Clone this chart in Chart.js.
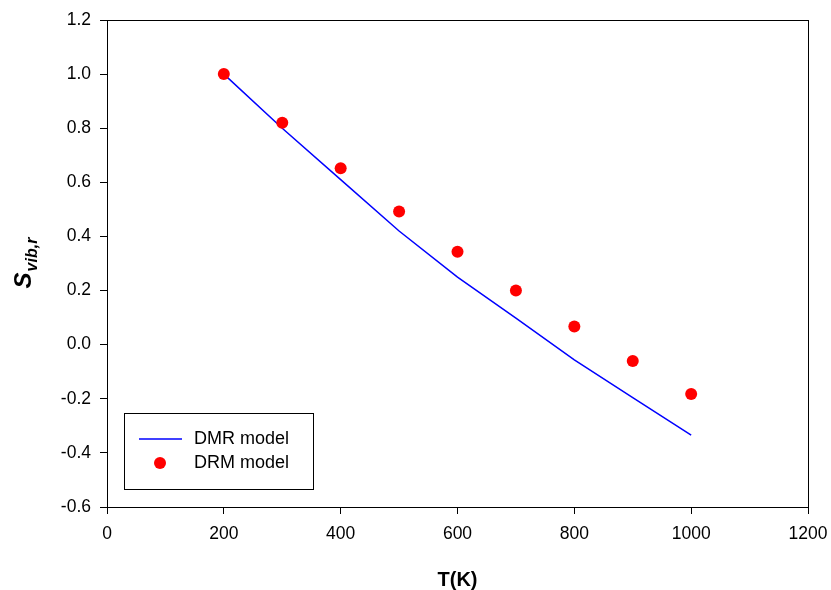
<!DOCTYPE html>
<html lang="en">
<head>
    <meta charset="UTF-8">
    <title>Vibrational entropy vs temperature</title>
    <script src="https://cdn.jsdelivr.net/npm/chart.js"></script>
    <style>
        html, body { margin: 0; padding: 0; background: #fff; }
        #wrap { width: 831px; height: 590px; }
    </style>
</head>
<body>
    <div id="wrap"><canvas id="svibChart" width="831" height="590"></canvas></div>

    <script>
        const FONT = "'Liberation Sans', Arial, sans-serif";

        // temperatures (K)
        const temps = [200, 300, 400, 500, 600, 700, 800, 900, 1000];
        // DMR model curve
        const dmrValues = [1.0, 0.80, 0.61, 0.42, 0.25, 0.098, -0.056, -0.196, -0.334];
        // DRM model points
        const drmValues = [1.0, 0.82, 0.652, 0.492, 0.343, 0.2, 0.067, -0.06, -0.182];

        const xTicks = [0, 200, 400, 600, 800, 1000, 1200];
        const yTicks = [-0.6, -0.4, -0.2, 0.0, 0.2, 0.4, 0.6, 0.8, 1.0, 1.2];

        const toPoints = (xs, ys) => xs.map((x, i) => ({ x: x, y: ys[i] }));

        // frame, axis titles and the boxed legend
        const decorPlugin = {
            id: 'decor',
            afterDraw(chart) {
                const ctx = chart.ctx;
                const a = chart.chartArea;
                ctx.save();

                ctx.strokeStyle = '#000';
                ctx.lineWidth = 1;
                ctx.strokeRect(Math.round(a.left) + 0.5, Math.round(a.top) + 0.5,
                    Math.round(a.right - a.left), Math.round(a.bottom - a.top));

                // x title
                ctx.fillStyle = '#000';
                ctx.font = `bold 20px ${FONT}`;
                ctx.textAlign = 'center';
                ctx.textBaseline = 'alphabetic';
                ctx.fillText('T(K)', (a.left + a.right) / 2, 586);

                // y title with subscript
                const midY = (a.top + a.bottom) / 2;
                ctx.save();
                ctx.translate(0, midY);
                ctx.rotate(-Math.PI / 2);
                ctx.textAlign = 'left';
                ctx.font = `italic bold 24px ${FONT}`;
                const sW = ctx.measureText('S').width;
                ctx.font = `italic bold 16px ${FONT}`;
                const subW = ctx.measureText('vib,r').width;
                const start = -(sW + subW) / 2;
                ctx.font = `italic bold 24px ${FONT}`;
                ctx.fillText('S', start, 31);
                ctx.font = `italic bold 16px ${FONT}`;
                ctx.fillText('vib,r', start + sW + 1, 37);
                ctx.restore();

                // legend
                const lx = a.left + 17, ly = a.bottom - 94;
                ctx.strokeRect(Math.round(lx) + 0.5, Math.round(ly) + 0.5, 189, 76);
                const ds = chart.data.datasets;
                ctx.font = `18px ${FONT}`;
                ctx.textAlign = 'left';
                ctx.textBaseline = 'middle';

                ctx.strokeStyle = ds[0].borderColor;
                ctx.lineWidth = ds[0].borderWidth;
                ctx.beginPath();
                ctx.moveTo(lx + 15, ly + 26);
                ctx.lineTo(lx + 58, ly + 26);
                ctx.stroke();
                ctx.fillStyle = '#000';
                ctx.fillText(ds[0].label, lx + 70, ly + 26);

                ctx.fillStyle = ds[1].backgroundColor;
                ctx.beginPath();
                ctx.arc(lx + 36, ly + 50, ds[1].pointRadius, 0, Math.PI * 2);
                ctx.fill();
                ctx.fillStyle = '#000';
                ctx.fillText(ds[1].label, lx + 70, ly + 50);

                ctx.restore();
            }
        };

        const ctx = document.getElementById('svibChart').getContext('2d');
        new Chart(ctx, {
            type: 'scatter',
            data: {
                datasets: [
                    {
                        label: 'DMR model',
                        type: 'line',
                        data: toPoints(temps, dmrValues),
                        borderColor: '#0000ff',
                        backgroundColor: '#0000ff',
                        borderWidth: 1.5,
                        pointRadius: 0,
                        tension: 0,
                        fill: false,
                        order: 2
                    },
                    {
                        label: 'DRM model',
                        data: toPoints(temps, drmValues),
                        backgroundColor: '#ff0000',
                        borderColor: '#ff0000',
                        borderWidth: 0,
                        pointRadius: 6,
                        order: 1
                    }
                ]
            },
            options: {
                responsive: false,
                animation: false,
                layout: { padding: { left: 0, top: 20, right: 23, bottom: 0 } },
                plugins: {
                    legend: { display: false },
                    tooltip: { enabled: false }
                },
                scales: {
                    x: {
                        type: 'linear',
                        min: 0,
                        max: 1200,
                        afterFit: (scale) => {
                            scale.height = 83;
                            scale.paddingLeft = 0;
                            scale.paddingRight = 0;
                        },
                        afterBuildTicks: (scale) => { scale.ticks = xTicks.map(v => ({ value: v })); },
                        grid: { drawOnChartArea: false, drawTicks: true, tickLength: 7, color: '#000' },
                        border: { display: true, color: '#000' },
                        ticks: {
                            color: '#000',
                            padding: 10,
                            maxRotation: 0,
                            font: { family: FONT, size: 17.5 },
                            callback: (v) => String(v)
                        }
                    },
                    y: {
                        type: 'linear',
                        min: -0.6,
                        max: 1.2,
                        afterFit: (scale) => {
                            scale.width = 107;
                            scale.paddingTop = 0;
                            scale.paddingBottom = 0;
                        },
                        afterBuildTicks: (scale) => { scale.ticks = yTicks.map(v => ({ value: v })); },
                        grid: { drawOnChartArea: false, drawTicks: true, tickLength: 7, color: '#000' },
                        border: { display: true, color: '#000' },
                        ticks: {
                            color: '#000',
                            padding: 9,
                            font: { family: FONT, size: 17.5 },
                            callback: (v) => Number(v).toFixed(1)
                        }
                    }
                }
            },
            plugins: [decorPlugin]
        });
    </script>
</body>
</html>
